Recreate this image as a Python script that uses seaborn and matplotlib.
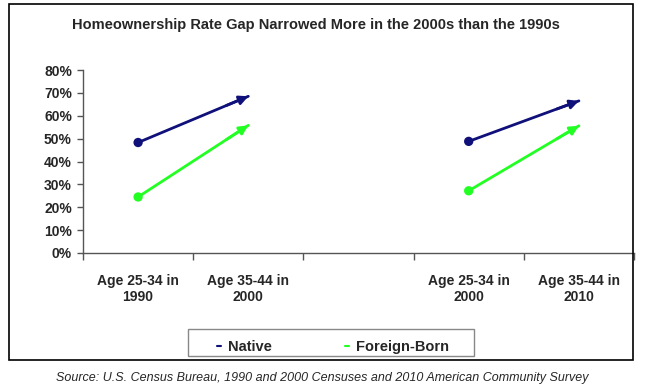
import numpy as np
import pandas as pd
import matplotlib
matplotlib.use('Agg')
import matplotlib.pyplot as plt
from matplotlib.lines import Line2D
from matplotlib.patches import Rectangle
from matplotlib.ticker import PercentFormatter, FixedLocator
import seaborn as sns

# ── Data ──────────────────────────────────────────────────────────────────────
categories = ["Age 25-34 in\n1990", "Age 35-44 in\n2000", "",
              "Age 25-34 in\n2000", "Age 35-44 in\n2010"]
series = ["Native", "Foreign-Born"]
native_1990s = [0.483, 0.685]      # 1990 -> 2000
foreign_1990s = [0.245, 0.558]
native_2000s = [0.488, 0.665]      # 2000 -> 2010
foreign_2000s = [0.272, 0.556]
seg_1990s = [0, 1]                 # category index of start / end
seg_2000s = [3, 4]

rows = []
for name, vals, pos, seg in [
    ("Native", native_1990s, seg_1990s, "a"),
    ("Foreign-Born", foreign_1990s, seg_1990s, "a"),
    ("Native", native_2000s, seg_2000s, "b"),
    ("Foreign-Born", foreign_2000s, seg_2000s, "b"),
]:
    for p, v in zip(pos, vals):
        rows.append({"x": p, "rate": v, "series": name, "seg": seg})
df = pd.DataFrame(rows)

# ── Style ─────────────────────────────────────────────────────────────────────
sns.set_style("white")
plt.rcParams['font.family'] = ['Liberation Sans', 'DejaVu Sans']
NAVY = '#10107a'
GREEN = '#22ff22'
palette = {"Native": NAVY, "Foreign-Born": GREEN}

fig = plt.figure(figsize=(6.49, 3.91), dpi=100)
ax = fig.add_axes([83 / 649, 1 - 253 / 391, (634 - 83) / 649, (253 - 70) / 391])

sns.lineplot(data=df, x="x", y="rate", hue="series", units="seg",
             estimator=None, palette=palette, lw=2, legend=False, ax=ax)
starts = df.groupby(["series", "seg"]).first().reset_index()
sns.scatterplot(data=starts, x="x", y="rate", hue="series", palette=palette,
                s=45, edgecolor='none', legend=False, ax=ax, zorder=3)

# arrowheads at the end points
for (name, seg), g in df.groupby(["series", "seg"]):
    g = g.sort_values("x")
    x0, y0 = g["x"].iloc[0], g["rate"].iloc[0]
    x1, y1 = g["x"].iloc[1], g["rate"].iloc[1]
    ax.annotate("", xy=(x1, y1), xytext=(x0 + 0.8 * (x1 - x0), y0 + 0.8 * (y1 - y0)),
                arrowprops=dict(arrowstyle='-|>', color=palette[name], lw=2,
                                mutation_scale=13, shrinkA=0, shrinkB=0))

# axes
ax.set_xlim(-0.5, 4.5)
ax.set_ylim(0, 0.8)
ax.yaxis.set_major_formatter(PercentFormatter(1.0, decimals=0))
ax.set_yticks(np.arange(0, 0.81, 0.1))
ax.set_xticks(range(len(categories)))
ax.set_xticklabels(categories, fontsize=10, fontweight='bold')
ax.xaxis.set_minor_locator(FixedLocator(np.arange(-0.5, 4.6, 1)))
ax.tick_params(axis='x', which='major', bottom=True, length=0, pad=15)
ax.tick_params(axis='x', which='minor', bottom=True, length=5, width=1,
               color='#555555', direction='out')
ax.tick_params(axis='y', left=True, length=4, width=1, color='#555555',
               direction='out', pad=4)
for lbl in ax.get_yticklabels():
    lbl.set_fontweight('bold')
    lbl.set_fontsize(10)
ax.set_xlabel("")
ax.set_ylabel("")
sns.despine(ax=ax)
for sp in ['left', 'bottom']:
    ax.spines[sp].set_color('#555555')
    ax.spines[sp].set_linewidth(1)

# title
fig.text(316 / 649, 1 - 25 / 391,
         "Homeownership Rate Gap Narrowed More in the 2000s than the 1990s",
         ha='center', va='center', fontsize=10.5, fontweight='bold')

# legend (frameless, box drawn separately)
handles = [Line2D([], [], color=palette[s], lw=1.5) for s in series]
leg = fig.legend(handles, series, ncol=2, loc='center',
                 bbox_to_anchor=(333 / 649, 1 - 347 / 391),
                 frameon=False, handlelength=0.25, handletextpad=0.5,
                 columnspacing=5.0, prop={'weight': 'bold', 'size': 10.5})
fig.patches.append(Rectangle((188 / 649, 1 - 356 / 391), (474 - 188) / 649, 27 / 391,
                             transform=fig.transFigure, fill=False,
                             edgecolor='#888888', lw=1, zorder=1))

# outer frame
fig.patches.append(Rectangle((9 / 649, 1 - 360 / 391), (633 - 9) / 649, (360 - 4) / 391,
                             transform=fig.transFigure, fill=False,
                             edgecolor='black', lw=1.2, zorder=0))

# source note
fig.text(322 / 649, 1 - 378 / 391,
         "Source: U.S. Census Bureau, 1990 and 2000 Censuses and 2010 American Community Survey",
         ha='center', va='center', fontsize=9, style='italic')

plt.savefig("out.png", dpi=100)
